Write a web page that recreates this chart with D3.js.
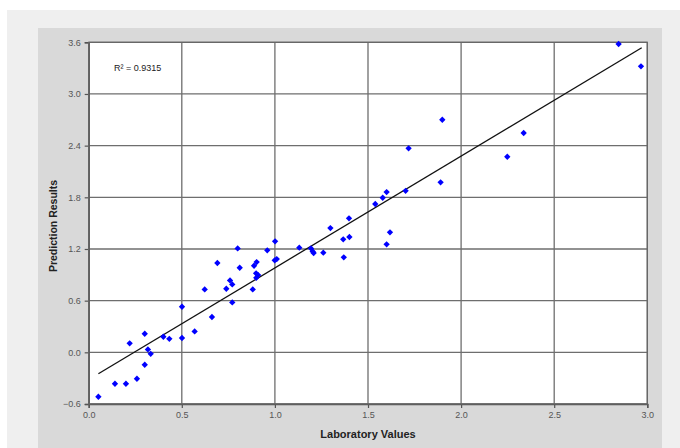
<!DOCTYPE html>
<html><head><meta charset="utf-8">
<script src="https://cdn.jsdelivr.net/npm/d3@7"></script>
<style>
html,body{margin:0;padding:0;background:#fff;}
svg{display:block;font-family:"Liberation Sans",Arial,sans-serif;}
</style></head>
<body><svg id="c" width="680" height="448"></svg>
<script>
const labX = [0.052,0.141,0.200,0.259,0.301,0.220,0.301,0.318,0.333,0.401,0.433,0.501,0.501,0.569,0.623,0.662,0.691,0.739,0.759,0.771,0.771,0.800,0.811,0.881,0.888,0.902,0.899,0.910,0.900,0.959,1.001,0.999,1.010,1.131,1.194,1.203,1.208,1.260,1.298,1.370,1.367,1.400,1.398,1.539,1.579,1.600,1.600,1.618,1.702,1.718,1.899,1.890,2.248,2.336,2.846,2.966];
const predY = [-0.516,-0.365,-0.365,-0.307,-0.144,0.104,0.216,0.034,-0.017,0.181,0.157,0.166,0.529,0.243,0.731,0.410,1.037,0.738,0.835,0.789,0.580,1.207,0.982,0.731,1.005,1.048,0.917,0.897,0.865,1.184,1.289,1.068,1.083,1.215,1.207,1.172,1.153,1.157,1.443,1.103,1.312,1.339,1.556,1.722,1.795,1.861,1.254,1.393,1.875,2.369,2.701,1.974,2.271,2.547,3.580,3.321];
const trendX = [0.052, 2.970];
const trendY = [-0.249, 3.537];
const xTicks = [0.0,0.5,1.0,1.5,2.0,2.5,3.0];
const yTicks = [-0.6,0.0,0.6,1.2,1.8,2.4,3.0,3.6];
const r2Label = "R² = 0.9315";
const xTitle = "Laboratory Values";
const yTitle = "Prediction Results";

const svg = d3.select("#c");
svg.append("rect").attr("x",7).attr("y",10).attr("width",673).attr("height",438).attr("fill","#efefef");
svg.append("rect").attr("x",38).attr("y",28).attr("width",624).attr("height",420).attr("fill","#d9d9d9");

const L=88.7, R=647.3, T=42.3, B=404;
const x = d3.scaleLinear().domain([0,3]).range([L,R]);
const y = d3.scaleLinear().domain([-0.6,3.6]).range([B,T]);

svg.append("rect").attr("x",L).attr("y",T).attr("width",R-L).attr("height",B-T).attr("fill","#fff");

const grid = svg.append("g").attr("stroke","#6e6e6e").attr("stroke-width",1.3);
xTicks.forEach(t=>grid.append("line").attr("x1",x(t)).attr("x2",x(t)).attr("y1",T).attr("y2",B));
yTicks.forEach(t=>grid.append("line").attr("x1",L).attr("x2",R).attr("y1",y(t)).attr("y2",y(t)));

const ax = svg.append("g").attr("transform",`translate(0,${B})`)
  .call(d3.axisBottom(x).tickValues(xTicks).tickFormat(d3.format(".1f")).tickSize(4).tickPadding(4));
const ay = svg.append("g").attr("transform",`translate(${L},0)`)
  .call(d3.axisLeft(y).tickValues(yTicks).tickFormat(d3.format(".1f")).tickSize(4).tickPadding(4));
[ax,ay].forEach(a=>{
  a.selectAll(".domain").attr("stroke","#555").attr("stroke-width",1.4);
  a.selectAll(".tick line").attr("stroke","#555").attr("stroke-width",1.2);
  a.selectAll(".tick text").attr("fill","#555").attr("font-size",9).attr("font-family","Liberation Sans, Arial, sans-serif");
});
svg.append("rect").attr("x",L).attr("y",T).attr("width",R-L).attr("height",B-T).attr("fill","none").attr("stroke","#666").attr("stroke-width",1.2);

svg.append("line")
  .attr("x1",x(trendX[0])).attr("y1",y(trendY[0]))
  .attr("x2",x(trendX[1])).attr("y2",y(trendY[1]))
  .attr("stroke","#111").attr("stroke-width",1.3);

const sym = d3.symbol().type(d3.symbolSquare).size(20);
svg.append("g").selectAll("path").data(labX.map((v,i)=>[v,predY[i]])).join("path")
  .attr("d",sym).attr("transform",d=>`translate(${x(d[0])},${y(d[1])}) rotate(45)`).attr("fill","#0000ff");

svg.append("text").attr("x",114).attr("y",71).attr("font-size",9).attr("fill","#222").text(r2Label);
svg.append("text").attr("x",368).attr("y",438).attr("text-anchor","middle").attr("font-size",11).attr("font-weight","bold").attr("fill","#222").text(xTitle);
svg.append("text").attr("transform","translate(57,226) rotate(-90)").attr("text-anchor","middle").attr("font-size",10.5).attr("font-weight","bold").attr("fill","#222").text(yTitle);
</script></body></html>
